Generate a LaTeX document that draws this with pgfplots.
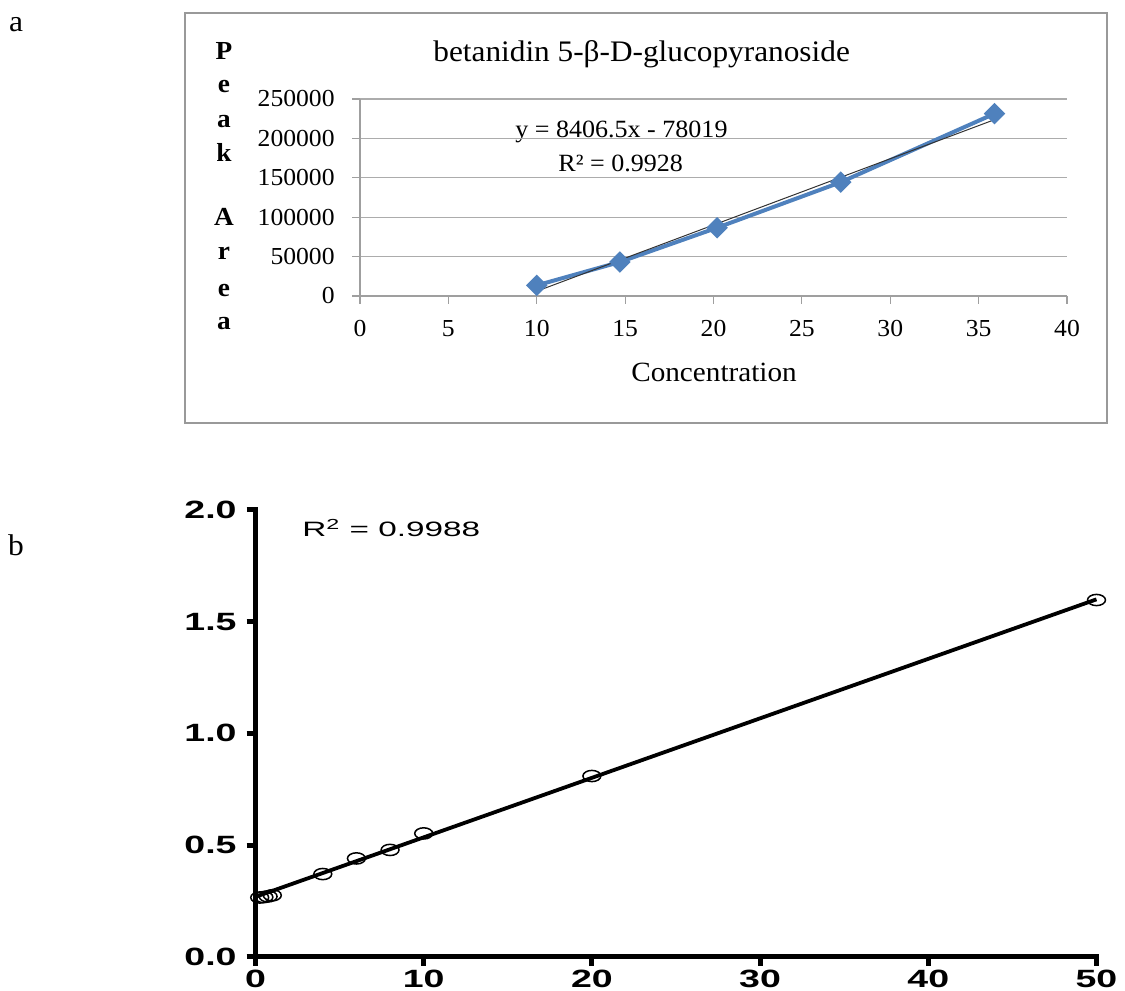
\documentclass[border=0pt]{standalone}
\usepackage{fontspec}
\setmainfont{Liberation Serif}[FakeStretch=1.05]
\newfontfamily\sfb{Liberation Sans}[FakeStretch=1.5]
\newfontfamily\sfr{Liberation Sans}[FakeStretch=1.6]
\usepackage{pgfplots}
\pgfplotsset{compat=1.18}
\definecolor{exblue}{RGB}{79,129,189}
\begin{document}
\begin{tikzpicture}[x=0.5pt,y=0.5pt]
\useasboundingbox (0,0) rectangle (1125,991);
\draw[color=gray!80, line width=0.9pt] (185,978) rectangle (1107,568);
\node[font=\fontsize{15}{18}\selectfont] at (16,966) {a};
\node[font=\fontsize{15}{18}\selectfont] at (16,446) {b};
\node[anchor=base west, inner sep=0pt, font=\fontsize{14.9}{17}\selectfont] at (433,929) {betanidin 5-β-D-glucopyranoside};
\node[anchor=base west, inner sep=0pt, font=\fontsize{12.4}{15}\selectfont] at (515,853) {y = 8406.5x - 78019};
\node[anchor=base west, inner sep=0pt, font=\fontsize{12.4}{15}\selectfont] at (558,819) {R² = 0.9928};
\node[font=\fontsize{13.9}{16}\selectfont] at (714,619) {Concentration};
\foreach \l/\yy in {P/931,e/898,a/863,k/829,A/765,r/731,e/694,a/661}
  \node[anchor=base, inner sep=0pt, font=\bfseries\fontsize{13}{15}\selectfont] at (224,\yy) {\l};
\node[anchor=base west, inner sep=0pt, font=\sfr\fontsize{10.4}{12}\selectfont] at (302,454) {R\textsuperscript{2} = 0.9988};

\begin{axis}[
  at={(180pt,347.5pt)}, anchor=south west, scale only axis,
  width=353.5pt, height=98.5pt,
  xmin=0, xmax=40, ymin=0, ymax=250000,
  xtick={0,5,...,40}, ytick={0,50000,100000,150000,200000,250000},
  axis x line=bottom, axis y line=left,
  axis line style={-, draw=gray!75, line width=0.6pt},
  tick style={draw=gray!75, line width=0.6pt},
  tick align=outside, major tick length=4pt,
  ymajorgrids, grid style={draw=gray!65, line width=0.6pt},
  scaled y ticks=false,
  /pgf/number format/assume math mode=true,
  yticklabel style={/pgf/number format/fixed, /pgf/number format/1000 sep={}, anchor=east, inner sep=0pt, xshift=-8.5pt},
  xticklabel style={anchor=north, inner sep=0pt, yshift=-8pt},
  ticklabel style={font=\fontsize{12.2}{14}\selectfont},
  clip=false,
]
\addplot[color=exblue, line width=2pt, mark=square*, mark size=2.8pt, mark options={rotate=45, fill=exblue, draw=exblue}]
  coordinates {(10,13500) (14.7,43100) (20.2,86600) (27.2,144400) (35.9,231400)};
\addplot[color=black!80, line width=0.5pt] coordinates {(10,6046) (35.9,223775)};
\end{axis}

\begin{axis}[
  at={(127.75pt,17.15pt)}, anchor=south west, scale only axis,
  width=420.5pt, height=223.35pt,
  xmin=0, xmax=50, ymin=0, ymax=2,
  xtick={0,10,...,50}, ytick={0,0.5,1,1.5,2},
  axis x line=bottom, axis y line=left,
  axis line style={-, draw=black, line width=2.5pt, line cap=rect},
  tick style={draw=black, line width=2.5pt},
  tick align=outside, major tick length=4.5pt,
  /pgf/number format/assume math mode=true,
  yticklabel style={/pgf/number format/fixed, /pgf/number format/fixed zerofill, /pgf/number format/precision=1, anchor=east, inner sep=0pt, xshift=-4.75pt},
  xticklabel style={anchor=north, inner sep=0pt, yshift=-2pt},
  ticklabel style={font=\sfb\bfseries\fontsize{12.5}{14}\selectfont},
  clip=false,
]
\addplot[black, line width=1.9pt] coordinates {(0,0.268) (50,1.600)};
\addplot[only marks, mark=o, mark size=2.8pt, mark options={xscale=1.6, line width=0.75pt, draw=black}]
  coordinates {(0.25,0.265) (0.5,0.267) (0.75,0.270) (1,0.275) (4,0.370) (6,0.440) (8,0.478) (10,0.552) (20,0.809) (50,1.597)};
\end{axis}
\end{tikzpicture}
\end{document}
